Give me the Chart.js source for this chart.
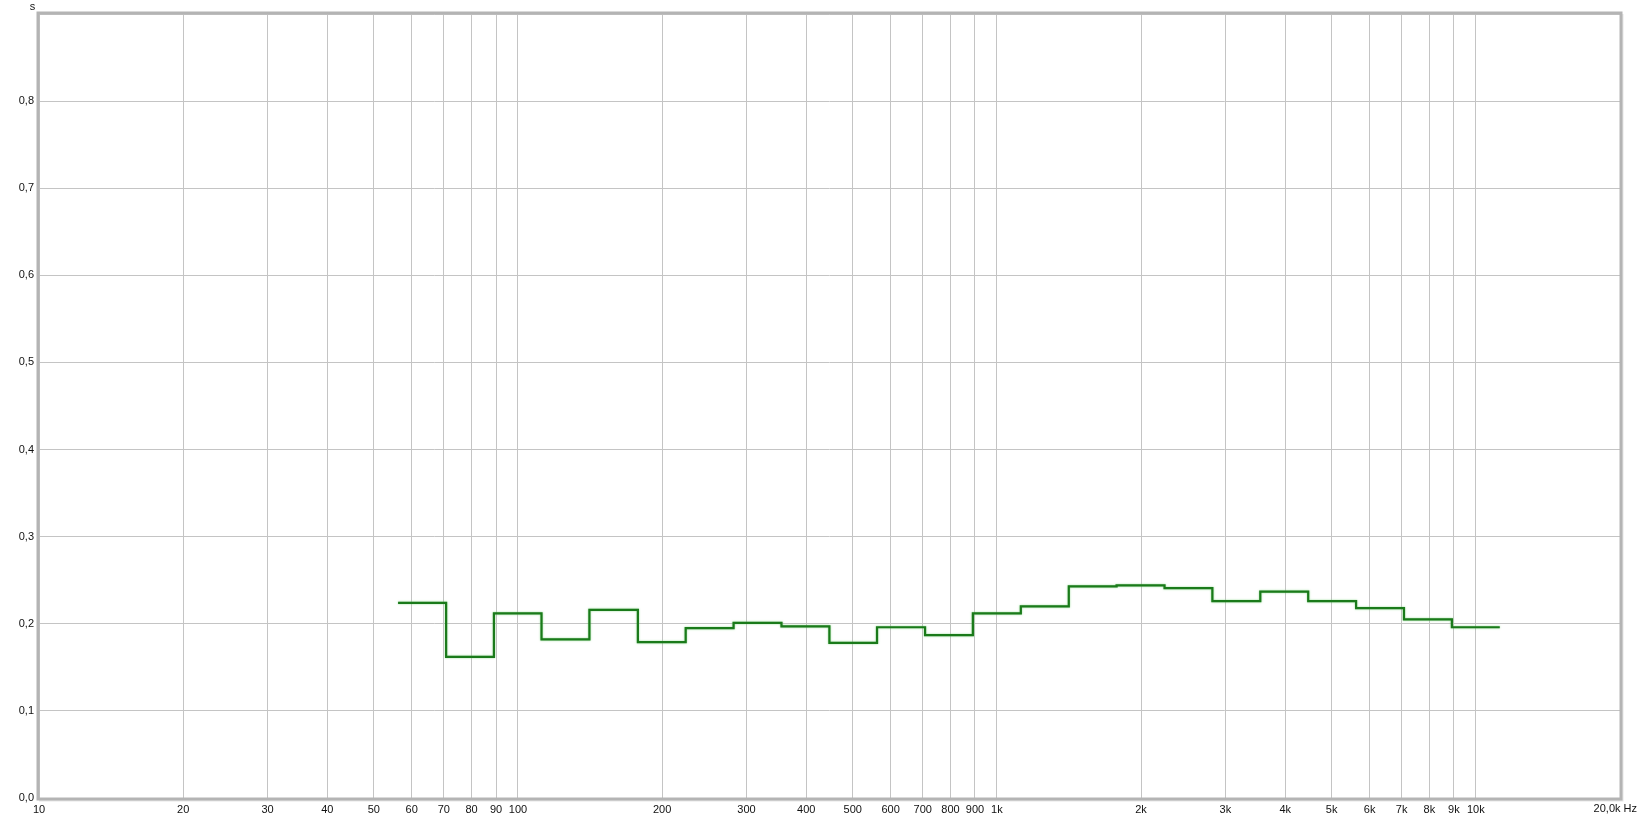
<!DOCTYPE html>
<html><head><meta charset="utf-8">
<script src="https://cdn.jsdelivr.net/npm/chart.js@4"></script>
<style>html,body{margin:0;padding:0;background:#fff;overflow:hidden}#wrap{width:1639px;height:818px;position:relative}canvas{display:block}</style>
</head><body><div id="wrap"><canvas id="c" width="1639" height="818"></canvas></div>
<script>
// Third-octave band edges (Hz): lower edges of each band plus the upper edge of the last band
const bandEdgesHz = [56.2, 70.8, 89.1, 112, 141, 178, 224, 282, 355, 447, 562, 708, 891, 1122, 1413, 1778, 2239, 2818, 3548, 4467, 5623, 7079, 8913, 11220];
// Reverberation time per band (s)
const reverbTimeS = [0.224, 0.162, 0.212, 0.182, 0.216, 0.179, 0.195, 0.201, 0.197, 0.178, 0.196, 0.187, 0.212, 0.220, 0.243, 0.244, 0.241, 0.226, 0.237, 0.226, 0.218, 0.205, 0.196];

const xTickValues = [10,20,30,40,50,60,70,80,90,100,200,300,400,500,600,700,800,900,1000,2000,3000,4000,5000,6000,7000,8000,9000,10000,20000];
const xTickLabels = ['10','20','30','40','50','60','70','80','90','100','200','300','400','500','600','700','800','900','1k','2k','3k','4k','5k','6k','7k','8k','9k','10k',''];
const xEndLabel = '20,0k Hz';
const yTickValues = [0,0.1,0.2,0.3,0.4,0.5,0.6,0.7,0.8,0.9];
const yTickLabels = ['0,0','0,1','0,2','0,3','0,4','0,5','0,6','0,7','0,8',''];
const yUnitLabel = 's';

const points = bandEdgesHz.map((f, i) => ({ x: f, y: reverbTimeS[Math.min(i, reverbTimeS.length - 1)] }));

Chart.defaults.font.family = '"Liberation Sans", Arial, sans-serif';
Chart.defaults.font.size = 11;
Chart.defaults.color = '#111';

const framePlugin = {
  id: 'frame',
  beforeDatasetsDraw(chart) {
    chart.ctx.save();
    chart.ctx.shadowColor = 'rgba(90,200,90,0.7)';
    chart.ctx.shadowBlur = 2;
  },
  afterDatasetsDraw(chart) { chart.ctx.restore(); },
  afterDraw(chart) {
    const { ctx, chartArea: a } = chart;
    ctx.save();
    ctx.strokeStyle = 'rgba(0,0,0,0.10)';
    ctx.lineWidth = 2;
    ctx.beginPath();
    ctx.moveTo(a.right + 2.5, a.top);
    ctx.lineTo(a.right + 2.5, a.bottom + 2.5);
    ctx.lineTo(a.left, a.bottom + 2.5);
    ctx.stroke();
    ctx.strokeStyle = '#b4b4b4';
    ctx.lineWidth = 3;
    ctx.strokeRect(a.left - 1, a.top - 1, a.right - a.left + 2, a.bottom - a.top + 2);
    ctx.fillStyle = '#111';
    ctx.font = '11px "Liberation Sans", Arial, sans-serif';
    ctx.textAlign = 'center';
    ctx.textBaseline = 'alphabetic';
    ctx.fillText(yUnitLabel, a.left - 6.5, a.top - 4.5);
    ctx.textAlign = 'right';
    ctx.textBaseline = 'middle';
    ctx.fillText(xEndLabel, chart.width - 2, a.bottom + 11);
    ctx.restore();
  }
};

new Chart(document.getElementById('c'), {
  type: 'line',
  data: {
    datasets: [{
      data: points,
      stepped: 'before',
      borderColor: '#1a7a1a',
      borderWidth: 2.2,
      pointRadius: 0,
      fill: false,
      tension: 0
    }]
  },
  options: {
    responsive: false,
    animation: false,
    devicePixelRatio: 1,
    layout: { padding: { top: 14, right: 19, left: 0, bottom: 0 } },
    plugins: { legend: { display: false }, tooltip: { enabled: false } },
    scales: {
      x: {
        type: 'logarithmic',
        min: 10, max: 20000,
        afterBuildTicks: (s) => { s.ticks = xTickValues.map(v => ({ value: v })); },
        afterFit: (s) => { s.height = 20; },
        ticks: {
          autoSkip: false, maxRotation: 0, minRotation: 0, padding: 5,
          callback: (v, i) => xTickLabels[i]
        },
        grid: { color: '#c4c4c4', lineWidth: 1, drawTicks: false },
        border: { display: false }
      },
      y: {
        type: 'linear',
        min: 0, max: 0.9,
        afterBuildTicks: (s) => { s.ticks = yTickValues.map(v => ({ value: v })); },
        afterFit: (s) => { s.width = 39; },
        ticks: {
          autoSkip: false, padding: 5,
          callback: (v, i) => yTickLabels[i]
        },
        grid: { color: '#c4c4c4', lineWidth: 1, drawTicks: false },
        border: { display: false }
      }
    }
  },
  plugins: [framePlugin]
});
</script>
</body></html>
